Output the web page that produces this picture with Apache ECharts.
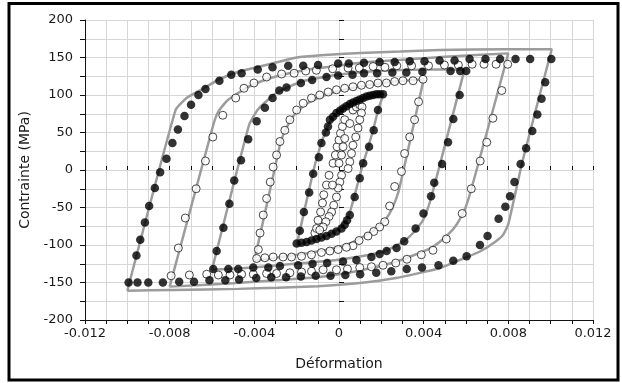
<!DOCTYPE html>
<html>
<head>
<meta charset="utf-8">
<script src="https://cdn.jsdelivr.net/npm/echarts@6/dist/echarts.min.js"></script>
<style>
  html, body { margin: 0; padding: 0; background: #fff; }
  #chart { width: 622px; height: 383px; }
</style>
</head>
<body>
<div id="chart"></div>
<script>
// strain values are written x1000 (milli-strain), stress in MPa
const xTicks = [-0.012, -0.008, -0.004, 0, 0.004, 0.008, 0.012];
const yTicks = [-200, -150, -100, -50, 0, 50, 100, 150, 200];

// filled circles : loops at +-0.010, +-0.006, +-0.002
const filledLoop10 = [
  [-9.94,-150],[-9.52,-150],[-9.01,-150],[-8.32,-150],[-7.55,-149],[-6.85,-149],[-6.12,-147],
  [-5.37,-147],[-4.72,-146],[-3.91,-144],[-3.2,-143],[-2.5,-143],[-1.8,-142],[-1.1,-141],
  [-0.4,-141],[0.3,-140],[1.0,-139],[1.76,-137],[2.47,-135],[3.2,-132],[3.92,-130],[4.7,-127],
  [5.4,-121],[6.03,-115],[6.66,-100],[7.02,-88],[7.54,-65],[7.86,-49],[8.08,-35],[8.29,-16],
  [8.58,8],[8.84,29],[9.13,52],[9.37,74],[9.57,95],[9.74,117],[10.03,148],
  [9.03,148],[8.34,148],[7.61,148],[6.92,148],[6.17,148],[5.46,146],[4.75,146],[4.04,145],
  [3.34,145],[2.63,144],[1.92,144],[1.18,143],[0.46,142],[-0.04,142],[-0.99,140],[-1.69,139],
  [-2.4,139],[-3.14,137],[-3.84,134],[-4.6,129],[-5.09,127],[-5.65,119],[-6.31,108],[-6.64,100],
  [-6.99,87],[-7.3,72],[-7.61,54],[-7.87,36],[-8.15,15],[-8.45,-3],[-8.7,-24],[-8.97,-48],
  [-9.17,-70],[-9.39,-93],[-9.57,-114]
];
const filledLoop6 = [
  [-5.94,-132],[-5.78,-108],[-5.46,-77],[-5.18,-45],[-4.95,-14],[-4.63,13],[-4.29,41],[-3.89,65],
  [-3.5,83],[-3.14,96],[-2.82,106],[-2.48,110],[-1.8,116],[-1.27,120],[-0.59,124],[-0.04,126],
  [0.64,127],[1.18,129],[1.8,129],[2.52,130],[3.18,130],[3.94,131],[5.27,132],[5.73,132],[6.01,132],
  [5.7,100],[5.4,68],[5.15,37],[4.87,8],[4.5,-17],[4.35,-35],[3.99,-58],[3.62,-78],[3.08,-95],
  [2.72,-104],[2.25,-108],[1.92,-112],[1.53,-116],[0.82,-120],[0.19,-122],[-0.56,-124],[-1.25,-125],
  [-1.93,-127],[-2.79,-128],[-3.34,-130],[-4.05,-130],[-4.76,-132],[-5.23,-132]
];
const filledLoop2 = [
  [-2.0,-98],[-1.85,-81],[-1.66,-56],[-1.41,-30],[-1.22,-5],[-0.95,17],[-0.83,36],[-0.62,50],
  [-0.52,58],[-0.43,67],[-0.28,71],[-0.12,76],[0.04,79],[0.19,82],[0.35,85],[0.51,88],[0.66,90],
  [0.82,92],[0.98,94],[1.14,96],[1.3,98],[1.45,99],[1.61,100],[1.77,101],[1.92,101],[2.08,101],
  [1.84,80],[1.64,53],[1.42,31],[1.14,9],[0.98,-11],[0.74,-36],[0.51,-60],[0.38,-67],[0.27,-73],
  [0.12,-78],[-0.12,-82],[-0.35,-85],[-0.59,-88],[-0.83,-90],[-1.06,-92],[-1.3,-94],[-1.53,-96],
  [-1.77,-97]
];

// hollow circles : loops at +-0.008, +-0.004, +-0.001
const hollowLoop8 = [
  [-7.93,-141],[-7.07,-140],[-6.25,-139],[-5.7,-140],[-5.15,-140],[-4.6,-139],[-4.05,-139],
  [-3.42,-138],[-2.95,-138],[-2.32,-137],[-1.77,-136],[-1.3,-135],[-0.75,-133],[-0.12,-133],
  [0.4,-132],[0.98,-130],[1.53,-129],[2.08,-127],[2.68,-124],[3.21,-119],[3.89,-113],[4.44,-107],
  [5.07,-92],[5.82,-58],[6.25,-25],[6.67,12],[6.98,37],[7.27,69],[7.69,106],[7.97,141],
  [7.42,141],[6.85,141],[6.29,141],[5.64,140],[4.98,140],[4.23,139],[3.43,139],[2.73,139],
  [2.17,137],[1.61,138],[0.96,136],[0.43,136],[-0.3,135],[-1.07,133],[-1.57,132],[-2.12,129],
  [-2.71,128],[-3.42,124],[-4.02,116],[-4.49,109],[-4.88,96],[-5.49,73],[-5.96,44],[-6.31,12],
  [-6.75,-25],[-7.26,-64],[-7.59,-104]
];
const hollowLoop4 = [
  [-3.89,-118],[-3.81,-106],[-3.73,-84],[-3.58,-60],[-3.42,-38],[-3.25,-16],[-3.11,4],[-2.95,20],
  [-2.79,38],[-2.56,53],[-2.32,67],[-2.0,80],[-1.69,89],[-1.3,96],[-0.91,100],[-0.51,104],
  [-0.12,107],[0.27,109],[0.66,111],[1.06,113],[1.45,114],[1.84,116],[2.24,116],[2.63,118],
  [3.02,119],[3.5,119],[3.97,121],
  [3.76,91],[3.57,67],[3.34,44],[3.1,22],[2.95,-2],[2.63,-22],[2.39,-48],[2.16,-69],[1.92,-76],
  [1.64,-82],[1.37,-88],[0.95,-94],[0.66,-101],[0.35,-103],[-0.04,-106],[-0.43,-108],[-0.83,-110],
  [-1.3,-113],[-1.77,-115],[-2.24,-116],[-2.64,-116],[-3.11,-116],[-3.5,-117]
];
const hollowLoop1 = [
  [-1.14,-84],[-1.06,-78],[-0.99,-67],[-0.87,-56],[-0.78,-44],[-0.72,-33],[-0.59,-20],[-0.47,-7],
  [-0.28,9],[-0.17,20],[-0.09,31],[0.0,40],[0.07,49],[0.16,58],[0.27,67],[0.66,80],[0.82,84],
  [0.98,87],[1.09,84],[1.06,76],[0.98,67],[0.9,56],[0.79,44],[0.66,33],[0.59,22],[0.51,11],
  [0.43,2],[0.12,-7],[0.04,-16],[-0.04,-24],[-0.12,-36],[-0.25,-47],[-0.35,-56],[-0.47,-62],
  [-0.62,-69],[-0.75,-76],[-0.91,-80],[0.0,9],[0.12,20],[0.19,31],[0.27,42],[0.51,62],[-0.31,-20]
];

// grey model curves
const modelLoop10 = [
  [-10.0,-161],[-7.72,80],[-7.2,96],[-6.45,108],[-5.65,121],[-4.75,131],[-3.3,141],[-2.0,150],
  [-0.86,153],[1.0,156],[2.9,158],[4.75,160],[7.85,161],[10.05,161],
  [8.68,13],[8.0,-72],[7.74,-87],[7.27,-98],[6.64,-109],[5.7,-120],[4.75,-131],[2.7,-144],
  [0.86,-151],[-1.0,-155],[-2.9,-157],[-4.75,-158.5],[-7.85,-160],[-10.0,-161]
];
const modelLoop8 = [
  [-8.0,-155.5],[-5.94,60],[-5.7,78],[-5.3,92],[-4.8,102],[-4.2,112],[-3.3,122],[-2.2,130],
  [-1.0,136],[0.0,139],[1.0,143],[3.0,147],[5.0,151],[8.0,155.5],
  [6.5,0],[6.1,-40],[5.9,-55],[5.5,-75],[5.0,-90],[4.4,-103],[3.5,-114],[2.5,-124],[1.0,-134],
  [0.0,-139],[-1.0,-143],[-3.0,-147],[-5.0,-151],[-8.0,-155.5]
];
const modelLoop6 = [
  [-6.0,-133],[-4.25,60],[-3.85,80],[-3.3,95],[-2.88,104],[-1.76,118],[-0.07,127],[1.8,132],
  [4.6,134],[5.93,134],
  [4.7,0],[4.28,-44],[3.97,-67],[3.5,-84],[3.02,-96],[2.24,-107],[1.45,-113],[-0.12,-120],
  [-1.69,-124],[-3.26,-128],[-4.6,-131],[-6.0,-133]
];
const modelLoop4 = [
  [-4.0,-121],[-3.05,0],[-2.75,38],[-2.45,58],[-2.1,74],[-1.6,87],[-1.0,96],[-0.2,104],
  [0.7,110],[1.6,114],[2.6,118],[4.0,121],
  [3.05,0],[2.8,-30],[2.5,-52],[2.2,-66],[1.8,-77],[1.2,-88],[0.4,-99],[-0.5,-106],
  [-1.5,-111],[-2.5,-115],[-4.0,-121]
];
const modelLoop2 = [
  [-2.0,-100],[-1.2,0],[-0.9,30],[-0.65,50],[-0.4,65],[0.0,78],[0.5,88],[1.0,94],[1.5,98],[2.1,101],
  [1.85,80],[1.6,52],[1.35,28],[1.1,5],[0.85,-22],[0.6,-48],[0.4,-64],[0.1,-76],[-0.4,-85],
  [-1.0,-92],[-1.5,-96],[-2.0,-100]
];

const toStrain = (pts) => pts.map((p) => [p[0] / 1000, p[1]]);

const chart = echarts.init(document.getElementById("chart"));
const font = "DejaVu Sans";
const lineGrey = "#9c9c9c";

function modelSeries(pts) {
  return {
    type: "line",
    data: toStrain(pts),
    symbol: "none",
    smooth: 0.15,
    lineStyle: { color: lineGrey, width: 2.5 },
    z: 1,
    silent: true,
  };
}

function pointSeries(pts, hollow) {
  return {
    type: "scatter",
    data: toStrain(pts),
    symbol: "circle",
    symbolSize: hollow ? 8 : 8.5,
    itemStyle: hollow
      ? { color: "#fff", borderColor: "#1a1a1a", borderWidth: 1 }
      : { color: "#000" },
    z: hollow ? 3 : 4,
    silent: true,
  };
}

const xLabel = (v) => {
  const m = Math.round(v * 1000);
  return xTicks.some((t) => Math.round(t * 1000) === m) ? String(m / 1000) : "";
};
const yLabel = (v) => (yTicks.indexOf(Math.round(v)) >= 0 ? String(Math.round(v)) : "");

const tickStyle = { color: "#111", width: 1 };

chart.setOption({
  animation: false,
  backgroundColor: "#fff",
  grid: { left: 85, right: 29, top: 20, bottom: 63 },
  graphic: [
    {
      type: "rect",
      shape: { x: 9, y: 3.5, width: 609, height: 376.5 },
      style: { fill: "none", stroke: "#000", lineWidth: 3 },
      z: 10,
      silent: true,
    },
  ],
  xAxis: [
    {
      type: "value",
      min: -0.012,
      max: 0.012,
      interval: 0.001,
      name: "Déformation",
      nameLocation: "middle",
      nameGap: 37,
      nameTextStyle: { fontFamily: font, fontSize: 14, color: "#1a1a1a" },
      axisLine: { onZero: false, lineStyle: { color: "#111", width: 1 } },
      axisTick: { length: 4, lineStyle: tickStyle },
      axisLabel: { formatter: xLabel, fontFamily: font, fontSize: 13, color: "#1a1a1a", margin: 7 },
      splitLine: { lineStyle: { color: "#d6d6d6", width: 1 } },
    },
    {
      type: "value",
      min: -0.012,
      max: 0.012,
      interval: 0.001,
      position: "bottom",
      axisLine: { show: false },
      axisTick: { inside: true, length: 4, lineStyle: tickStyle },
      axisLabel: { show: false },
      splitLine: { show: false },
    },
  ],
  yAxis: [
    {
      type: "value",
      min: -200,
      max: 200,
      interval: 25,
      name: "Contrainte (MPa)",
      nameLocation: "middle",
      nameGap: 46,
      nameTextStyle: { fontFamily: font, fontSize: 14, color: "#1a1a1a" },
      axisLine: { show: true, onZero: false, lineStyle: { color: "#111", width: 1 } },
      axisTick: { show: true, length: 5, lineStyle: tickStyle },
      axisLabel: { formatter: yLabel, fontFamily: font, fontSize: 13, color: "#1a1a1a", margin: 12 },
      splitLine: { lineStyle: { color: "#d6d6d6", width: 1 } },
    },
    {
      type: "value",
      min: -200,
      max: 200,
      interval: 25,
      position: "left",
      axisLine: { show: false },
      axisTick: { show: true, inside: true, length: 5, lineStyle: tickStyle },
      axisLabel: { show: false },
      splitLine: { show: false },
    },
  ],
  series: [
    modelSeries(modelLoop10),
    modelSeries(modelLoop8),
    modelSeries(modelLoop6),
    modelSeries(modelLoop4),
    modelSeries(modelLoop2),
    pointSeries(hollowLoop8, true),
    pointSeries(hollowLoop4, true),
    pointSeries(hollowLoop1, true),
    pointSeries(filledLoop10, false),
    pointSeries(filledLoop6, false),
    pointSeries(filledLoop2, false),
  ],
});
</script>
</body>
</html>
